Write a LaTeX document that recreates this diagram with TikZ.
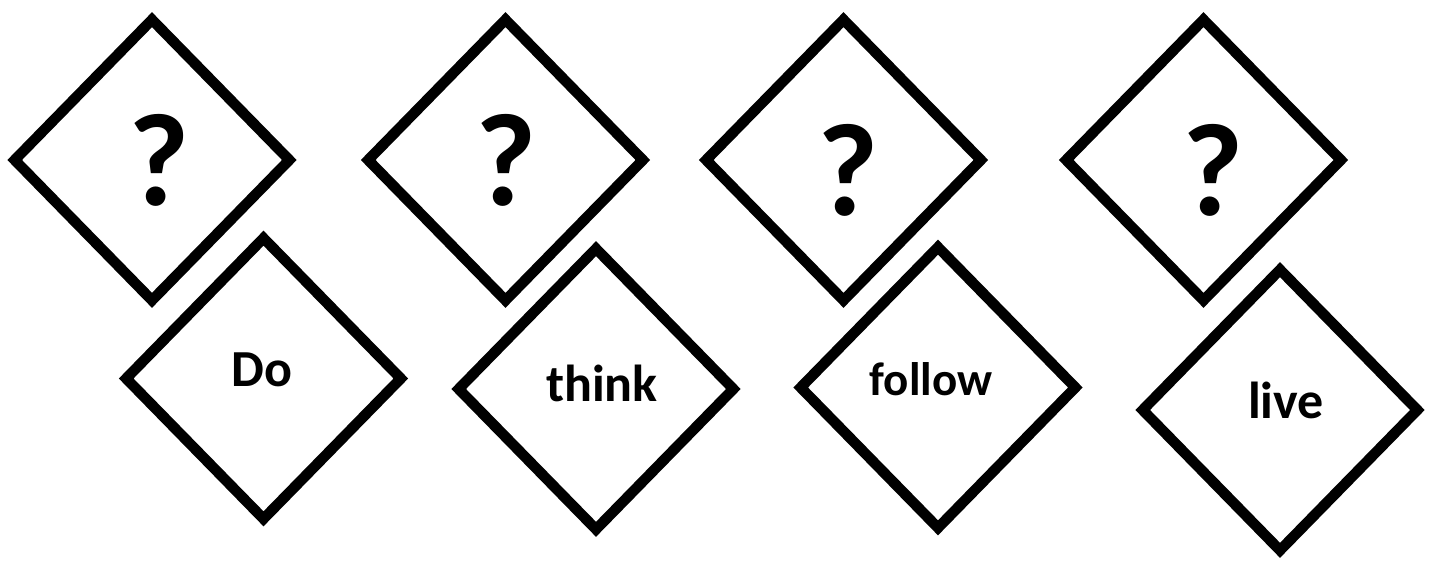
\documentclass[tikz,border=0pt]{standalone}
\usepackage{fontspec}
\setmainfont{Carlito}
\usetikzlibrary{shapes.geometric}
\tikzset{
  dia/.style={draw=black, line width=10.5pt, shape=diamond, inner sep=0pt,
    minimum width=279pt, minimum height=285pt, line join=miter},
  qmark/.style={inner sep=0pt, font=\fontsize{132}{132}\selectfont\bfseries},
  word/.style={inner sep=0pt, font=\fontsize{52}{52}\selectfont\bfseries}
}
\begin{document}
\begin{tikzpicture}[x=1pt,y=-1pt]
\useasboundingbox (0,0) rectangle (1434,561);
% top row
\node[dia] (q1) at (152,160) {};
\node[dia] (q2) at (505.5,160) {};
\node[dia] (q3) at (843.5,160) {};
\node[dia] (q4) at (1203.5,160) {};
% bottom row
\node[dia] (w1) at (263.5,378.5) {};
\node[dia] (w2) at (596,389) {};
\node[dia] (w3) at (938,387.5) {};
\node[dia] (w4) at (1280,410) {};
% texts
\node[qmark] (tq1) at (159,160) {?};
\node[qmark] (tq2) at (506,160) {?};
\node[qmark] (tq3) at (848,170) {?};
\node[qmark] (tq4) at (1213,170) {?};
\node[word] (tw1) at (262,370) {Do};
\node[word] (tw2) at (602,383) {think};
\node[word, font=\fontsize{47}{47}\selectfont\bfseries] (tw3) at (931,379) {follow};
\node[word] (tw4) at (1286,400) {live};
\end{tikzpicture}
\end{document}
